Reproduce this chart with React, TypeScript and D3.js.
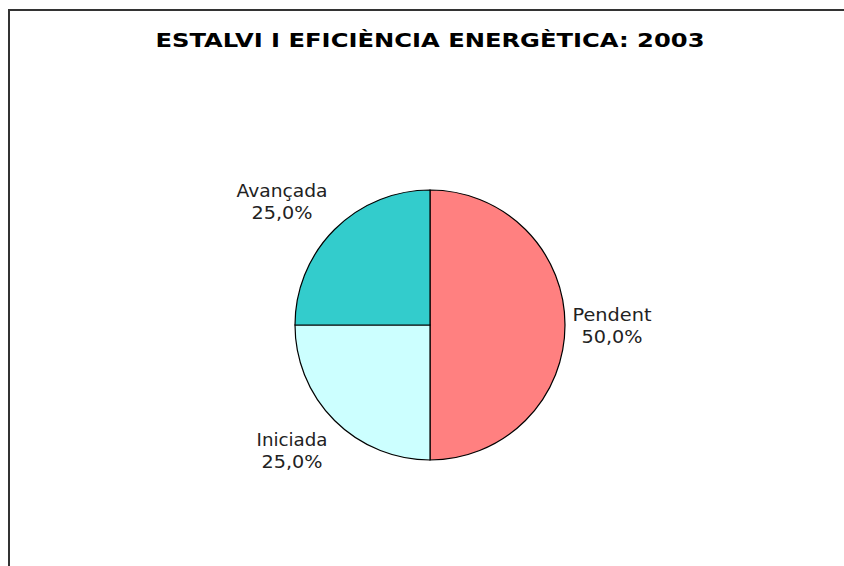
import React from "react";
import * as d3 from "d3";

const categories = ["Pendent", "Iniciada", "Avançada"];
const values = [50, 25, 25];
const valueLabels = ["50,0%", "25,0%", "25,0%"];
const colors = ["#FF8080", "#CCFFFF", "#33CCCC"];
const title = "ESTALVI I EFICIÈNCIA ENERGÈTICA: 2003";

const W = 844;
const H = 566;
const cx = 430;
const cy = 325;
const R = 135;

export default function App() {
  const data = categories.map((c, i) => ({ c, v: values[i], l: valueLabels[i], col: colors[i] }));
  const pie = d3.pie<any>().value((d) => d.v).sort(null);
  const arcs = pie(data);
  const arc = d3.arc<any>().innerRadius(0).outerRadius(R);
  const labelArc = d3.arc<any>().innerRadius(R * 1.35).outerRadius(R * 1.35);
  const font = "Verdana, 'DejaVu Sans', sans-serif";
  const labelWidths: Record<string, number> = { Pendent: 79, Iniciada: 71, Avançada: 91 };
  const valWidths = 61;
  return (
    <svg width={W} height={H} style={{ position: "absolute", left: 0, top: 0 }} xmlns="http://www.w3.org/2000/svg">
      <rect x={0} y={0} width={W} height={H} fill="#fff" />
      <path d={`M9,${H} V10 H${W}`} fill="none" stroke="#333" strokeWidth={2} />
      <text x={430} y={47} textAnchor="middle" fontFamily={font} fontWeight="bold" fontSize={19.5}
        textLength={549} lengthAdjust="spacingAndGlyphs" fill="#000">{title}</text>
      <g transform={`translate(${cx},${cy})`}>
        {arcs.map((a, i) => (
          <path key={i} d={arc(a) as string} fill={a.data.col} stroke="#000" strokeWidth={1.2} />
        ))}
      </g>
      {arcs.map((a, i) => {
        const [lx, ly] = labelArc.centroid(a);
        const pos: Record<string, [number, number]> = {
          Pendent: [612, 321],
          Iniciada: [292, 446],
          Avançada: [282, 197],
        };
        const p = pos[a.data.c] || [cx + lx, cy + ly];
        return (
          <g key={i} fontFamily={font} fontSize={17} fill="#222">
            <text x={p[0]} y={p[1]} textAnchor="middle" textLength={labelWidths[a.data.c]} lengthAdjust="spacingAndGlyphs">{a.data.c}</text>
            <text x={p[0]} y={p[1] + 22} textAnchor="middle" textLength={valWidths} lengthAdjust="spacingAndGlyphs">{a.data.l}</text>
          </g>
        );
      })}
    </svg>
  );
}
